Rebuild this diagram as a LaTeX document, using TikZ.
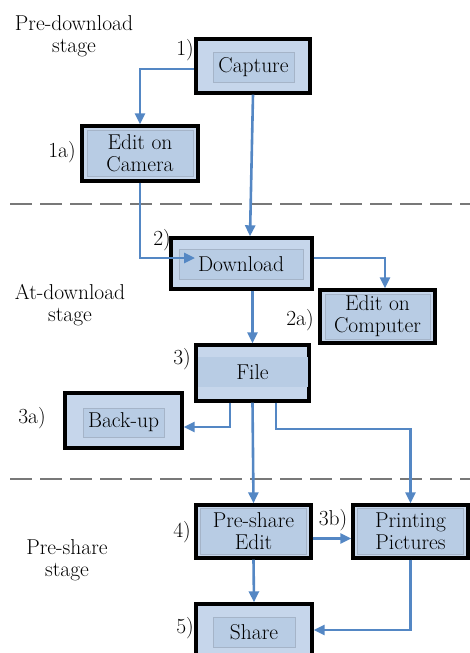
\documentclass[tikz,border=0pt]{standalone}
\usepackage{fontspec}
\usetikzlibrary{arrows.meta}
\definecolor{outerblue}{RGB}{198,214,235}
\definecolor{innerblue}{RGB}{184,204,228}
\definecolor{innerline}{RGB}{165,180,200}
\definecolor{connblue}{RGB}{84,135,196}
\definecolor{dashgray}{RGB}{120,120,120}
\tikzset{
  outerbox/.style={draw=black, line width=3.4pt, fill=outerblue, inner sep=0pt},
  innerbox/.style={draw=innerline, line width=0.6pt, fill=innerblue, inner sep=0pt, align=center,
    font=\fontsize{21.5}{22}\selectfont},
  lbl/.style={inner sep=0pt, align=center, font=\fontsize{21.5}{22}\selectfont},
  conn/.style={draw=connblue, line width=2.6pt, -{Triangle[length=11pt,width=10pt]}},
  stageline/.style={draw=dashgray, line width=2.8pt, dash pattern=on 22pt off 8pt},
}
\begin{document}
\begin{tikzpicture}[x=1pt,y=-1pt]
\useasboundingbox (0,0) rectangle (470,653);
% stage separators
\draw[stageline] (10,204) -- (470,204);
\draw[stageline] (10,479) -- (470,479);
% stage labels
\node[lbl] (s1) at (74,36) {Pre-download\\stage};
\node[lbl] (s2) at (70,305) {At-download\\stage};
\node[lbl] (s3) at (67,560) {Pre-share\\stage};
% boxes
\node[outerbox, minimum width=114, minimum height=54] (cap) at (253,66) {};
\node[innerbox, minimum width=81, minimum height=30] (capi) at (253.5,67) {Capture};
\node[outerbox, minimum width=116, minimum height=55] (ecam) at (140,153.5) {};
\node[innerbox, minimum width=106, minimum height=46] (ecami) at (140,153.5) {Edit on\\Camera};
\node[outerbox, minimum width=141, minimum height=51] (dl) at (241.5,263.5) {};
\node[innerbox, minimum width=124, minimum height=30] (dli) at (241,264) {Download};
\node[outerbox, minimum width=115, minimum height=53] (ecomp) at (377.5,316.5) {};
\node[innerbox, minimum width=105, minimum height=45] (ecompi) at (377.5,316.5) {Edit on\\Computer};
\node[outerbox, minimum width=113, minimum height=56] (file) at (252.5,373) {};
\node[innerbox, draw=none, minimum width=110, minimum height=30] (filei) at (252.5,372) {File};
\node[outerbox, minimum width=117, minimum height=55] (bk) at (123.5,420.5) {};
\node[innerbox, minimum width=81, minimum height=29] (bki) at (123.5,422.5) {Back-up};
\node[outerbox, minimum width=115, minimum height=53] (ps) at (253.5,531.5) {};
\node[innerbox, minimum width=106, minimum height=46] (psi) at (253.5,531.5) {Pre-share\\Edit};
\node[outerbox, minimum width=115, minimum height=53] (pp) at (410.5,531.5) {};
\node[innerbox, minimum width=106, minimum height=46] (ppi) at (410.5,531.5) {Printing\\Pictures};
\node[outerbox, minimum width=116, minimum height=56] (sh) at (254,632) {};
\node[innerbox, minimum width=82, minimum height=30] (shi) at (254,632) {Share};
% step numbers
\node[lbl] (n1) at (185,50) {1)};
\node[lbl] (n1a) at (62,152) {1a)};
\node[lbl] (n2) at (162,240) {2)};
\node[lbl] (n2a) at (300,320) {2a)};
\node[lbl] (n3) at (182,359) {3)};
\node[lbl] (n3a) at (32,418) {3a)};
\node[lbl] (n4) at (182,532) {4)};
\node[lbl] (n3b) at (333,520) {3b)};
\node[lbl] (n5) at (185,628) {5)};
% connectors
\coordinate (dlin) at (195,258);
\coordinate (split) at (0,429);
\draw[conn] ([yshift=-3pt]cap.west) -| (ecam.north);
\draw[conn] (cap.south) -- ([xshift=8.5pt]dl.north);
\draw[conn] (ecam.south) |- (dlin);
\draw[conn] ([yshift=5.5pt]dl.east) -| ([xshift=7.5pt]ecomp.north);
\draw[conn] (file.north |- dl.south) -- (file.north);
\draw[conn] ([xshift=-22.5pt]file.south) |- ([yshift=-6.5pt]bk.east);
\draw[conn] (file.south) -- (ps.north);
\draw[conn] ([xshift=23.5pt]file.south) |- (split -| pp.north) -- (pp.north);
\draw[conn] ([yshift=-7pt]ps.east) -- ([yshift=-7pt]pp.west);
\draw[conn] (ps.south) -- (sh.north);
\draw[conn] (pp.south) |- ([yshift=2pt]sh.east);
\end{tikzpicture}
\end{document}
